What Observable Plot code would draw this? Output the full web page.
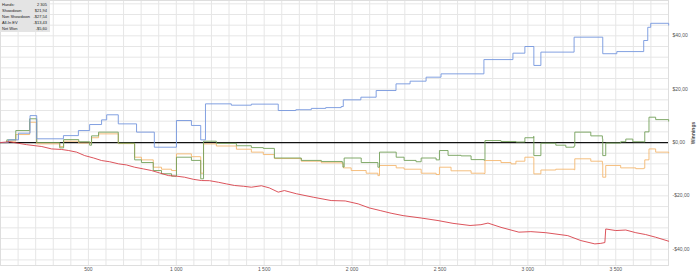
<!DOCTYPE html>
<html>
<head>
<meta charset="utf-8">
<script src="https://cdn.jsdelivr.net/npm/d3@7"></script>
<script src="https://cdn.jsdelivr.net/npm/@observablehq/plot@0.6"></script>
<style>
  html, body { margin: 0; padding: 0; background: #fff; }
  #wrap { position: relative; width: 700px; height: 277px; overflow: hidden; }
  #legend { position: absolute; left: 0; top: 0; width: 50px; height: 32px; background: #e4e4e4;
            font-family: "Liberation Sans", Arial, sans-serif; font-size: 4px; color: #222; }
  #legend .row { position: absolute; left: 2px; right: 3px; height: 6px; white-space: nowrap; }
  #legend .row span.v { position: absolute; right: 0; }
</style>
</head>
<body>
<div id="wrap"><div id="legend"></div></div>
<script>
// Legend summary
const statLabels = ["Hands:", "Showdown", "Non Showdown", "All-In EV", "Net Won"];
const statValues = ["2 305", "$21,94", "-$27,54", "-$13,43", "-$5,60"];

// Axis ticks
const xTicks = [500, 1000, 1500, 2000, 2500, 3000, 3500];
const yTicks = [-40, -20, 0, 20, 40];

// Series: [hand, winnings $]
const blue = [[0,0],[45,1.0],[102,3.5],[168,10.1],[206,1.4],[358,2.6],[443,4.5],[507,6.75],[575,8.5],[604,10.4],[670,7.0],[774,3.9],[875,-1.75],[1001,8.25],[1086,6.4],[1139,1.0],[1166,14.5],[1313,14.0],[1427,14.4],[1580,12.0],[1680,12.3],[1768,12.8],[1850,13.1],[1938,13.5],[1950,16.0],[2050,17.0],[2137,19.5],[2250,22.0],[2330,23.0],[2421,24.5],[2506,25.75],[2750,31.1],[2915,33.5],[2983,36.0],[3034,28.9],[3074,33.9],[3263,39.5],[3426,33.3],[3506,34.1],[3659,38.25],[3682,43.2],[3699,44.7],[3801,44.0]];

const green = [[0,0],[36,1.0],[87,4.5],[166,8.9],[206,0.0],[337,-2.0],[359,1.1],[445,0.3],[507,-1.0],[518,2.5],[558,3.9],[670,-0.25],[763,-6.5],[802,-7.5],[869,-10.5],[916,-11.7],[973,-12.6],[1001,-5.5],[1086,-6.7],[1139,-13.6],[1155,0.5],[1228,-0.3],[1342,-1.2],[1427,-1.9],[1495,-2.2],[1558,-5.8],[1711,-6.7],[1825,-7.1],[1944,-7.4],[1948,-9.2],[1955,-5.8],[2052,-7.5],[2147,-9.25],[2156,-3.6],[2251,-5.5],[2296,-6.7],[2364,-7.2],[2393,-5.8],[2478,-6.5],[2497,-3.0],[2546,-4.8],[2620,-5.0],[2677,-6.4],[2750,-6.6],[2756,0.75],[2847,0.4],[2932,0.2],[2983,1.8],[3033,2.3],[3034,-4.9],[3074,-0.25],[3159,-1.0],[3216,-1.75],[3263,-1.3],[3267,3.9],[3358,2.5],[3424,1.4],[3426,-4.9],[3443,-0.2],[3528,0.3],[3557,1.3],[3597,0.3],[3659,0.2],[3665,4.0],[3689,9.5],[3727,8.6],[3801,8.0]];

const orange = [[0,0],[36,0.5],[87,3.0],[166,7.6],[206,-0.5],[337,-1.5],[359,0.5],[445,-0.2],[518,1.8],[558,3.25],[670,-0.4],[763,-5.5],[802,-6.5],[869,-9.25],[916,-10.0],[973,-10.5],[1001,-4.25],[1086,-5.3],[1139,-11.5],[1155,-0.5],[1228,-1.3],[1342,-2.5],[1427,-3.6],[1495,-4.5],[1558,-6.0],[1711,-7.0],[1825,-7.6],[1944,-8.0],[1950,-9.5],[1995,-10.5],[2080,-11.5],[2147,-12.4],[2156,-8.6],[2251,-9.5],[2296,-10.0],[2393,-11.5],[2478,-12.0],[2497,-9.25],[2563,-10.6],[2677,-11.5],[2750,-11.6],[2756,-6.75],[2847,-7.5],[2904,-8.0],[2932,-7.0],[2983,-5.5],[3033,-5.9],[3034,-11.75],[3074,-10.3],[3159,-10.0],[3263,-10.2],[3267,-6.1],[3358,-7.0],[3424,-8.0],[3426,-13.0],[3443,-8.6],[3528,-9.5],[3614,-9.8],[3659,-9.6],[3665,-6.5],[3689,-2.4],[3727,-3.6],[3801,-3.9]];

const red = [[0,0],[53,0.3],[93,-0.2],[149,-0.8],[235,-1.5],[291,-2.4],[348,-2.6],[388,-3.0],[433,-3.6],[479,-4.9],[530,-5.8],[575,-6.75],[621,-7.2],[672,-8.0],[717,-8.4],[763,-9.25],[814,-9.9],[859,-10.5],[905,-11.4],[956,-12.4],[1001,-12.6],[1047,-13.0],[1098,-13.8],[1143,-14.25],[1189,-14.3],[1240,-14.9],[1285,-15.5],[1331,-16.1],[1382,-16.4],[1427,-16.75],[1484,-16.2],[1529,-17.0],[1580,-18.6],[1615,-18.0],[1683,-19.2],[1779,-20.5],[1881,-21.75],[1961,-21.9],[2035,-23.0],[2097,-24.5],[2160,-25.5],[2222,-26.5],[2290,-27.4],[2393,-28.3],[2489,-29.25],[2574,-30.3],[2671,-31.1],[2733,-30.8],[2773,-30.2],[2847,-31.8],[2949,-33.6],[3017,-33.4],[3102,-33.8],[3227,-34.9],[3301,-36.75],[3381,-38.0],[3415,-37.8],[3438,-37.5],[3443,-32.4],[3500,-33.0],[3557,-32.8],[3614,-33.8],[3670,-34.5],[3727,-35.5],[3801,-37.0]];

const xGrid = d3.range(0, 3801, 100);
const yGrid = d3.range(-44, 53, 4);

const fmtX = d => d3.format(",")(d).replace(/,/g, " ");
const fmtY = v => (v < 0 ? "-" : "") + "$" + Math.abs(v).toFixed(2).replace(".", ",");

const chart = Plot.plot({
  width: 700,
  height: 277,
  marginTop: 0,
  marginLeft: 0,
  marginRight: 32,
  marginBottom: 12,
  style: { fontFamily: "'Liberation Sans', Arial, sans-serif", fontSize: "5px", color: "#555", background: "#fff" },
  x: { domain: [0, 3800] },
  y: { domain: [-46.1, 53.25] },
  marks: [
    Plot.gridX(xGrid, { stroke: "#e6e6e6", strokeOpacity: 1 }),
    Plot.gridY(yGrid, { stroke: "#e6e6e6", strokeOpacity: 1 }),
    Plot.frame({ stroke: "#dedede" }),
    Plot.axisX(xTicks, { tickSize: 0, tickPadding: 2, tickFormat: fmtX, label: null }),
    Plot.axisY(yTicks, { anchor: "right", tickSize: 0, tickPadding: 4, tickFormat: fmtY,
      label: "Winnings", labelAnchor: "center", labelArrow: "none", labelOffset: 26 }),
    Plot.ruleY([0], { stroke: "#111", strokeWidth: 1.3 }),
    Plot.line(orange, { x: d => d[0], y: d => d[1], stroke: "#f4b870", strokeWidth: 0.9, curve: "step-after" }),
    Plot.line(green, { x: d => d[0], y: d => d[1], stroke: "#74a05a", strokeWidth: 0.9, curve: "step-after" }),
    Plot.line(blue, { x: d => d[0], y: d => d[1], stroke: "#7596de", strokeWidth: 0.9, curve: "step-after" }),
    Plot.line(red, { x: d => d[0], y: d => d[1], stroke: "#d8414a", strokeWidth: 0.9 })
  ]
});
document.getElementById("wrap").prepend(chart);
d3.select(chart).selectAll("[aria-label='y-axis label'] text, [aria-label='y-axis label']").style("font-weight", "bold");

const legend = document.getElementById("legend");
statLabels.forEach((lab, i) => {
  const row = document.createElement("div");
  row.className = "row";
  row.style.top = (1.5 + i * 6) + "px";
  row.innerHTML = `<span>${lab}</span><span class="v">${statValues[i]}</span>`;
  legend.appendChild(row);
});
</script>
</body>
</html>
